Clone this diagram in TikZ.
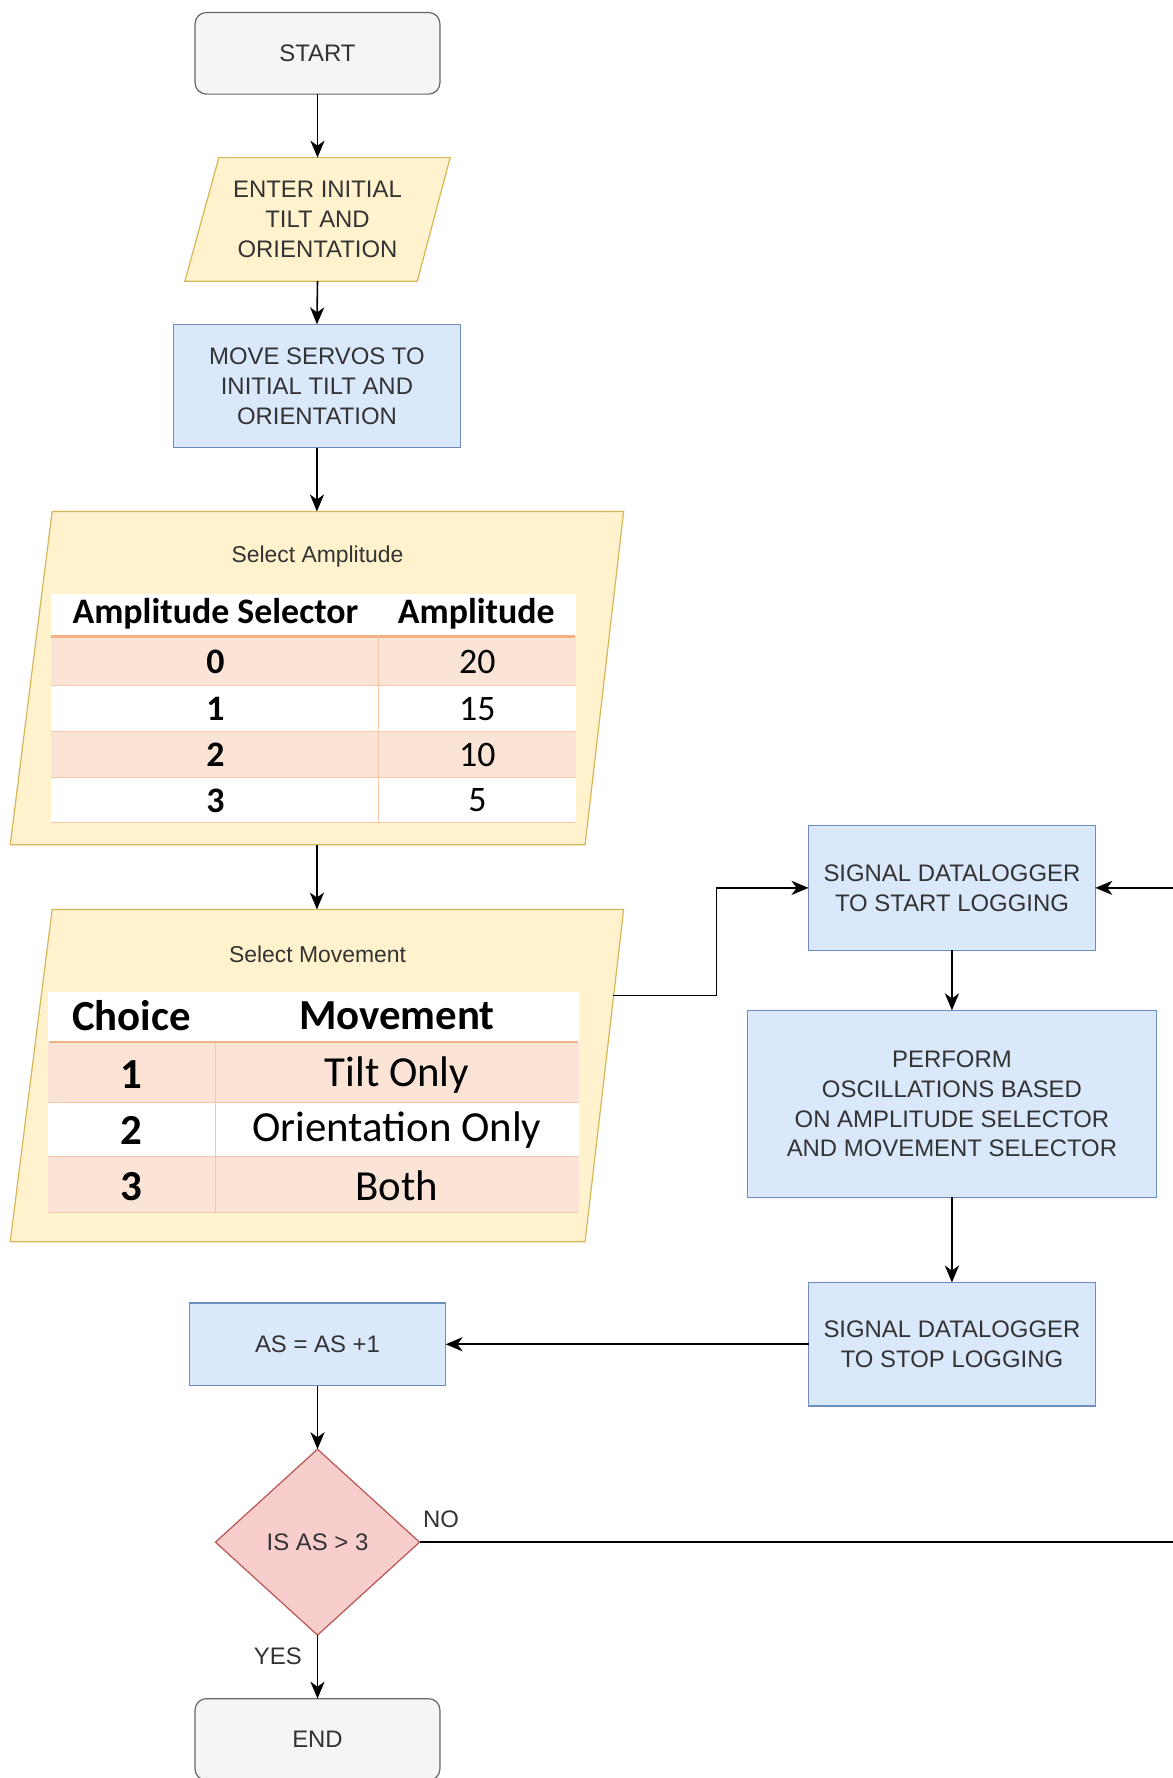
\documentclass[tikz,border=0pt]{standalone}
\usepackage{fontspec}
\setmainfont{Liberation Sans}
\newfontfamily\tabfont{Carlito}
\usetikzlibrary{shapes.geometric, arrows.meta}

\definecolor{termfill}{HTML}{F5F5F5}
\definecolor{termline}{HTML}{666666}
\definecolor{inputfill}{HTML}{FFF2CC}
\definecolor{inputline}{HTML}{D6B656}
\definecolor{procfill}{HTML}{DAE8FC}
\definecolor{procline}{HTML}{6C8EBF}
\definecolor{decfill}{HTML}{F8CECC}
\definecolor{decline}{HTML}{B85450}
\definecolor{rowfill}{HTML}{FBE4D5}
\definecolor{rowline}{HTML}{F4B183}
\definecolor{boxtext}{HTML}{333333}

\tikzset{
  boxfont/.style={font=\fontsize{12}{15}\selectfont, text=boxtext, align=center},
  terminal/.style={boxfont, draw=termline, fill=termfill, line width=0.6pt, rounded corners=0.2cm,
    minimum width=4.32cm, minimum height=1.44cm, outer sep=0pt},
  process/.style={boxfont, draw=procline, fill=procfill, line width=0.6pt, outer sep=0pt},
  inputtext/.style={boxfont, outer sep=0pt, inner sep=0pt},
  decision/.style={boxfont, diamond, draw=decline, fill=decfill, line width=0.6pt, inner sep=0pt,
    minimum width=3.6cm, minimum height=3.28cm, outer sep=0pt},
  amphead/.style={font=\tabfont\fontsize{18}{20}\selectfont\bfseries},
  ampcell/.style={font=\tabfont\fontsize{18}{20}\selectfont},
  movhead/.style={font=\tabfont\fontsize{21.5}{24}\selectfont\bfseries},
  movcell/.style={font=\tabfont\fontsize{21.5}{24}\selectfont},
  arr/.style={-{Stealth[length=3mm, width=2.5mm, inset=0.9mm]}, line width=0.8pt},
  edgelabel/.style={font=\fontsize{12}{14}\selectfont, text=boxtext}
}

\begin{document}
\begin{tikzpicture}[x=0.02cm, y=-0.02cm]
    \useasboundingbox (0,0) rectangle (1034,1568);

    % main column
    \node[terminal] (start) at (280,47) {START};

    \draw (193,139) [fill=inputfill, draw=inputline, line width=0.6pt] -- (397,139) -- (368,248) -- (163,248) -- cycle;
    \node[inputtext, minimum width=4.68cm, minimum height=2.18cm] (enter) at (280,193.5) {ENTER INITIAL\\TILT AND\\ORIENTATION};

    \node[process, minimum width=5.06cm, minimum height=2.18cm] (servo) at (279.5,340.5) {MOVE SERVOS TO\\INITIAL TILT AND\\ORIENTATION};

    % amplitude input
    \draw (46,451) [fill=inputfill, draw=inputline, line width=0.6pt] -- (550,451) -- (516,745) -- (9,745) -- cycle;
    \node[inputtext, minimum width=10.82cm, minimum height=5.88cm] (amp) at (279.5,598) {};
    \node[boxfont, font=\fontsize{11.5}{14}\selectfont] (amptitle) at (280,491) {Select Amplitude};
    \draw (45,524) [fill=white, color=white] rectangle (507,725);
    \draw (45,561) [fill=rowfill, color=rowfill] rectangle (507,604);
    \draw (45,645) [fill=rowfill, color=rowfill] rectangle (507,686);
    \draw[rowline, line width=1.4pt] (45,561) -- (507,561);
    \draw[rowline!70, line width=0.4pt] (45,604) -- (507,604);
    \draw[rowline!70, line width=0.4pt] (45,645) -- (507,645);
    \draw[rowline!70, line width=0.4pt] (45,686) -- (507,686);
    \draw[rowline!70, line width=0.4pt] (45,725) -- (507,725);
    \draw[rowline!70, line width=0.4pt] (334,562) -- (334,725);
    \node[amphead] (ahsel) at (190,541) {Amplitude Selector};
    \node[amphead] (ahamp) at (420,541) {Amplitude};
    \node[amphead] (asel0) at (190,584) {0};
    \node[ampcell] (aval0) at (421,584) {20};
    \node[amphead] (asel1) at (190,625) {1};
    \node[ampcell] (aval1) at (421,625) {15};
    \node[amphead] (asel2) at (190,666) {2};
    \node[ampcell] (aval2) at (421,666) {10};
    \node[amphead] (asel3) at (190,706) {3};
    \node[ampcell] (aval3) at (421,706) {5};

    % movement input
    \draw (46,802) [fill=inputfill, draw=inputline, line width=0.6pt] -- (550,802) -- (516,1095) -- (9,1095) -- cycle;
    \node[inputtext, minimum width=10.82cm, minimum height=5.86cm] (move) at (279.5,948.5) {};
    \coordinate (moveout) at (541,878);
    \node[boxfont, font=\fontsize{11.5}{14}\selectfont] (movtitle) at (280,842) {Select Movement};
    \draw (43,875) [fill=white, color=white] rectangle (510,1069);
    \draw (43,920) [fill=rowfill, color=rowfill] rectangle (510,972);
    \draw (43,1020) [fill=rowfill, color=rowfill] rectangle (510,1069);
    \draw[rowline, line width=1.4pt] (43,919) -- (510,919);
    \draw[rowline!70, line width=0.4pt] (43,972) -- (510,972);
    \draw[rowline!70, line width=0.4pt] (43,1020) -- (510,1020);
    \draw[rowline!70, line width=0.4pt] (43,1069) -- (510,1069);
    \draw[rowline!70, line width=0.4pt] (190,920) -- (190,1069);
    \node[movhead] (mhch) at (116,896) {Choice};
    \node[movhead] (mhmv) at (350,896) {Movement};
    \node[movhead] (mch1) at (116,948) {1};
    \node[movcell] (mmv1) at (350,948) {Tilt Only};
    \node[movhead] (mch2) at (116,997) {2};
    \node[movcell] (mmv2) at (350,997) {Orientation Only};
    \node[movhead] (mch3) at (116,1046) {3};
    \node[movcell] (mmv3) at (350,1046) {Both};

    % right column
    \node[process, minimum width=5.06cm, minimum height=2.2cm] (startlog) at (839.5,783) {SIGNAL DATALOGGER\\TO START LOGGING};
    \node[process, minimum width=7.22cm, minimum height=3.3cm] (perform) at (839.5,973.5) {PERFORM\\OSCILLATIONS BASED\\ON AMPLITUDE SELECTOR\\AND MOVEMENT SELECTOR};
    \node[process, minimum width=5.06cm, minimum height=2.18cm] (stoplog) at (839.5,1185.5) {SIGNAL DATALOGGER\\TO STOP LOGGING};

    % bottom of main column
    \node[process, minimum width=4.52cm, minimum height=1.46cm] (asinc) at (280,1185.5) {AS = AS +1};
    \node[decision] (check) at (280,1360) {IS AS > 3};
    \node[terminal] (end) at (280,1534) {END};

    % connectors
    \draw[arr] (start.south) -- (enter.north);
    \draw[arr] (enter.south) -- (servo.north);
    \draw[arr] (servo.south) -- (amp.north);
    \draw[arr] (amp.south) -- (move.north);
    \draw[arr] (moveout) -- (632,878) |- (startlog.west);
    \draw[arr] (startlog.south) -- (perform.north);
    \draw[arr] (perform.south) -- (stoplog.north);
    \draw[arr] (stoplog.west) -- (asinc.east);
    \draw[arr] (asinc.south) -- (check.north);
    \draw[arr] (check.east) -- (1050,1360) |- (startlog.east);
    \draw[arr] (check.south) -- (end.north);
    \node[edgelabel] (nolabel) at (389,1340) {NO};
    \node[edgelabel] (yeslabel) at (245,1461) {YES};
\end{tikzpicture}
\end{document}
